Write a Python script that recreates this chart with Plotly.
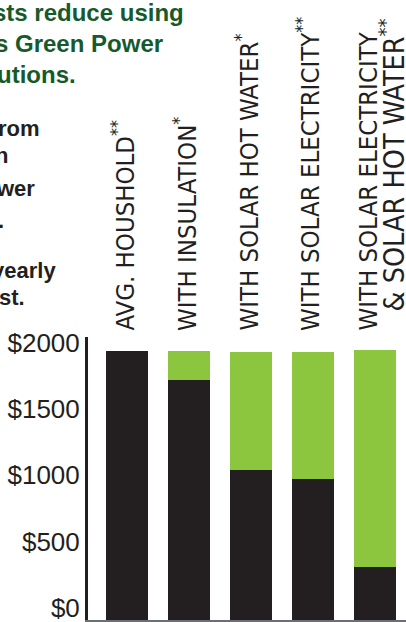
import plotly.graph_objects as go

# ---- data ----
categories = ["AVG. HOUSHOLD", "WITH INSULATION", "WITH SOLAR HOT WATER",
              "WITH SOLAR ELECTRICITY", "WITH SOLAR ELECTRICITY & SOLAR HOT WATER"]
remaining_cost = [2026, 1808, 1130, 1062, 397]
savings = [0, 218, 889, 957, 1637]
tick_values = [0, 500, 1000, 1500, 2000]
tick_labels = ["$0", "$500", "$1000", "$1500", "$2000"]

title_lines = ["sts reduce using", "s Green Power", "utions."]
side_lines = ["rom", "n", "wer", ".", "yearly", "st."]

# ---- layout constants (pixels) ----
W, H = 406, 622
L, R, T, B = 88, 0, 337, 2
PW, PH = W - L - R, H - T - B
BLACK = "#231f20"
GREEN = "#8cc63f"
DKGREEN = "#165a2c"


def px_x(x):
    return (x - L) / PW


def px_y(y):
    return (H - B - y) / PH


fig = go.Figure()
fig.add_trace(go.Bar(x=list(range(len(categories))), y=remaining_cost,
                     marker=dict(color=BLACK, line=dict(width=0)),
                     hoverinfo="skip", name="cost"))
fig.add_trace(go.Bar(x=list(range(len(categories))), y=savings,
                     marker=dict(color=GREEN, line=dict(width=0)),
                     hoverinfo="skip", name="saving"))

ann = []
# title lines (dark green, cut off on the left)
title_right = [186, 165, 78]
title_mid = [12.5, 43.5, 74]
for t, xr, ym in zip(title_lines, title_right, title_mid):
    ann.append(dict(text="<b>" + t + "</b>", x=px_x(xr), y=px_y(ym),
                    xref="paper", yref="paper", xanchor="right", yanchor="middle",
                    showarrow=False,
                    font=dict(family="Liberation Sans, Arial", size=24, color=DKGREEN)))

side_right = [42, 10, 37, 6, 58, 27]
side_mid = [128, 156, 188, 220, 270, 297]
for t, xr, ym in zip(side_lines, side_right, side_mid):
    ann.append(dict(text="<b>" + t + "</b>", x=px_x(xr), y=px_y(ym),
                    xref="paper", yref="paper", xanchor="right", yanchor="middle",
                    showarrow=False,
                    font=dict(family="Liberation Sans, Arial", size=22, color=BLACK)))

# category labels, rotated
cat_labels = [
    ("AVG. HOUSHOLD<sup>**</sup>", 123, 333, 25.5),
    ("WITH INSULATION<sup>*</sup>", 185, 333, 25.5),
    ("WITH SOLAR HOT WATER<sup>*</sup>", 247, 333, 25.5),
    ("WITH SOLAR ELECTRICITY<sup>**</sup>", 308, 333, 25.5),
    ("WITH SOLAR ELECTRICITY", 367, 333, 25.5),
    ("&amp; SOLAR HOT WATER<sup>**</sup>", 392, 314, 28.5),
]
for t, xc, yb, fs in cat_labels:
    ann.append(dict(text=t, x=px_x(xc), y=px_y(yb), xref="paper", yref="paper",
                    xanchor="center", yanchor="bottom", textangle=-90,
                    showarrow=False,
                    font=dict(family="DejaVu Sans Condensed", size=fs, color=BLACK)))

fig.update_layout(
    width=W, height=H,
    margin=dict(l=L, r=R, t=T, b=B, pad=0),
    paper_bgcolor="white", plot_bgcolor="white",
    barmode="stack", bargap=20 / 62,
    showlegend=False,
    annotations=ann,
    xaxis=dict(range=[-0.5 - 8 / 62, len(categories) - 0.5], showticklabels=False,
               showgrid=False, zeroline=False, showline=True, linecolor="#6d6e71",
               linewidth=1.5, ticks="", fixedrange=True),
    yaxis=dict(range=[0, PH / 0.13275], tickvals=tick_values, ticktext=tick_labels,
               showgrid=False, zeroline=False, showline=True, linecolor=BLACK,
               linewidth=3, ticks="", ticklabelshift=-12, ticklabelstandoff=0,
               ticklabeloverflow="allow",
               tickfont=dict(family="Liberation Sans, Arial", size=26, color=BLACK),
               fixedrange=True),
)

fig.write_html("out.html", config={"displayModeBar": False},
               post_script="document.body.style.margin='0px';")
